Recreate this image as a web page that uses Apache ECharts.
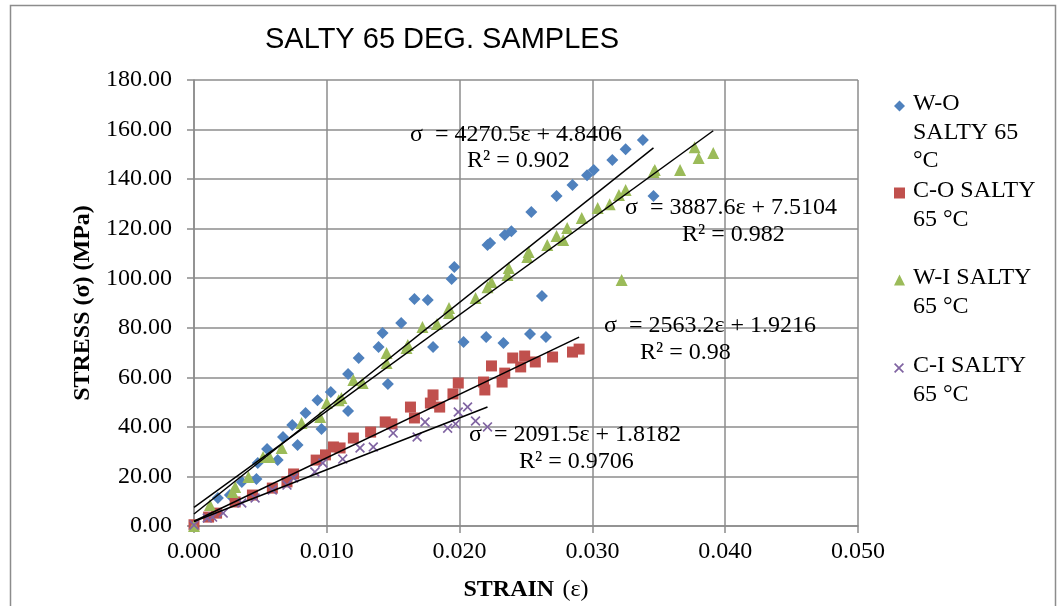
<!DOCTYPE html>
<html>
<head>
<meta charset="utf-8">
<script src="https://cdn.jsdelivr.net/npm/echarts@6/dist/echarts.min.js"></script>
<style>html,body{margin:0;padding:0;background:#fff}#c{width:1062px;height:606px}</style>
</head>
<body>
<div id="c"></div>
<script>
const seriesNames = ['W-O SALTY 65 °C', 'C-O SALTY 65 °C', 'W-I SALTY 65 °C', 'C-I SALTY 65 °C'];
const xTicks = [0, 0.01, 0.02, 0.03, 0.04, 0.05];
const yTicks = [0, 20, 40, 60, 80, 100, 120, 140, 160, 180];

const woData = [[0,0],[0.0018,11.3],[0.0027,12.5],[0.0036,17.8],[0.0047,19.0],[0.0048,25.4],[0.0055,31.1],[0.0063,26.6],
  [0.0067,35.9],[0.0074,40.8],[0.0078,32.7],[0.0084,45.6],[0.0093,50.8],[0.0096,39.1],[0.0103,54.1],[0.0116,46.4],
  [0.0116,61.3],[0.0124,67.8],[0.0139,72.2],[0.0142,77.9],[0.0146,57.3],[0.0156,81.9],[0.0166,91.6],[0.0176,91.2],
  [0.0180,72.2],[0.0194,99.7],[0.0196,104.5],[0.0203,74.3],[0.0220,76.3],[0.0221,113.4],[0.0223,114.2],[0.0233,73.9],
  [0.0234,117.4],[0.0239,119.0],[0.0253,77.5],[0.0254,126.7],[0.0262,92.8],[0.0265,76.3],[0.0273,133.2],[0.0285,137.6],
  [0.0296,141.6],[0.0301,143.7],[0.0315,147.7],[0.0325,152.1],[0.0338,155.8],[0.0346,133.2]];
const coData = [[0,0.5],[0.0011,3.6],[0.0017,5.2],[0.0031,9.7],[0.0044,12.5],[0.0059,15.3],[0.0070,17.8],[0.0075,21.0],
  [0.0092,26.6],[0.0099,28.7],[0.0105,31.9],[0.0110,31.5],[0.0120,35.5],[0.0133,37.9],[0.0144,42.0],[0.0149,41.2],
  [0.0163,48.0],[0.0166,43.6],[0.0178,49.6],[0.0180,52.9],[0.0185,48.0],[0.0195,53.3],[0.0199,57.7],[0.0218,58.1],
  [0.0219,54.9],[0.0224,64.6],[0.0232,58.1],[0.0234,61.7],[0.0240,67.8],[0.0246,64.2],[0.0249,68.6],[0.0257,66.2],
  [0.0270,68.2],[0.0285,70.2],[0.0290,71.4]];
const wiData = [[0,0],[0.0012,8.5],[0.0029,13.7],[0.0031,15.7],[0.0041,19.8],[0.0052,27.8],[0.0057,27.8],[0.0066,31.5],
  [0.0081,41.6],[0.0095,44.0],[0.0100,49.6],[0.0109,50.8],[0.0111,51.7],[0.0120,58.9],[0.0127,57.7],[0.0145,65.8],
  [0.0145,69.8],[0.0160,71.8],[0.0161,73.0],[0.0172,80.3],[0.0183,81.5],[0.0192,88.0],[0.0192,86.0],[0.0212,92.0],
  [0.0221,96.4],[0.0224,98.5],[0.0236,101.3],[0.0237,104.1],[0.0251,108.6],[0.0252,110.6],[0.0266,113.4],[0.0273,117.0],
  [0.0278,115.4],[0.0281,120.3],[0.0292,124.3],[0.0304,128.3],[0.0313,129.9],[0.0320,133.6],[0.0322,99.3],[0.0325,135.6],
  [0.0346,142.9],[0.0347,143.7],[0.0366,143.7],[0.0377,152.9],[0.0380,148.5],[0.0391,150.5]];
const ciData = [[0,0.4],[0.0010,3.2],[0.0014,3.6],[0.0022,5.2],[0.0036,9.3],[0.0046,11.3],[0.0059,14.5],[0.0070,16.5],
  [0.0075,19.4],[0.0091,21.8],[0.0097,25.4],[0.0112,27.0],[0.0125,31.5],[0.0135,31.9],[0.0150,37.5],[0.0168,35.9],
  [0.0174,42.0],[0.0191,39.5],[0.0197,41.2],[0.0199,46.0],[0.0206,48.0],[0.0212,42.4],[0.0221,40.0]];

const slopes = [4270.5, 2563.2, 3887.6, 2091.5];
const intercepts = [4.8406, 1.9216, 7.5104, 1.8182];
const r2 = ['0.902', '0.98', '0.982', '0.9706'];
const legendLines = [['W-O', 'SALTY 65', '°C'], ['C-O SALTY', '65 °C'], ['W-I SALTY', '65 °C'], ['C-I SALTY', '65 °C']];
const allData = [woData, coData, wiData, ciData];

const colors = ['#4F81BD', '#C0504D', '#9BBB59', '#8064A2'];
const xPath = 'path://M0,1.2 L1.2,0 L5,3.8 L8.8,0 L10,1.2 L6.2,5 L10,8.8 L8.8,10 L5,6.2 L1.2,10 L0,8.8 L3.8,5 Z';
const symbols = ['diamond', 'rect', 'triangle', xPath];
const symSizes = [12, 11, 12, 10];

const serif = '"Liberation Serif", "DejaVu Serif", serif';

const series = [];
allData.forEach((d, i) => {
  series.push({
    name: seriesNames[i], type: 'scatter', data: d, symbol: symbols[i], symbolSize: symSizes[i],
    itemStyle: { color: colors[i], opacity: 1 }, z: 3
  });
});
allData.forEach((d, i) => {
  const xmax = Math.max(...d.map(p => p[0]));
  series.push({
    type: 'line', silent: true, symbol: 'none', z: 4,
    data: [[0, intercepts[i]], [xmax, slopes[i] * xmax + intercepts[i]]],
    lineStyle: { color: '#000', width: 1.5 }
  });
});

const legendTops = [106, 193, 280, 368];
const legends = seriesNames.map((n, i) => ({
  data: [{ name: n, icon: symbols[i] }], left: 894, top: legendTops[i] - (i === 3 ? 5 : 5.5), padding: 0,
  itemWidth: i === 3 ? 10 : 11, itemHeight: i === 3 ? 10 : 11, selectedMode: false,
  formatter: () => '',
  textStyle: { fontSize: 1 }
}));

const graphics = [
  { type: 'rect', shape: { x: 10.5, y: 5.5, width: 1045, height: 640 }, style: { fill: 'none', stroke: '#8c8c8c', lineWidth: 1.5 }, z: 0, silent: true }
];
legendLines.forEach((lines, i) => lines.forEach((t, j) => graphics.push({
  type: 'text', left: 913, top: legendTops[i] + j * 28.5 - 14, z: 10, silent: true,
  style: { text: t, font: '24px ' + serif, fill: '#000' }
})));

const eqLabels = [
  ['σ  = ' + slopes[0] + 'ε + ' + intercepts[0], 410, 137], ['R² = ' + r2[0], 467, 163],
  ['σ  = ' + slopes[2] + 'ε + ' + intercepts[2], 625, 210], ['R² = ' + r2[2], 682, 237],
  ['σ  = ' + slopes[1] + 'ε + ' + intercepts[1], 604, 328], ['R² = ' + r2[1], 640, 355],
  ['σ  = ' + slopes[3] + 'ε + ' + intercepts[3], 469, 437], ['R² = ' + r2[3], 519, 464]
];
eqLabels.forEach(([t, x, y]) => graphics.push({
  type: 'text', left: x, top: y - 14, z: 10, silent: true,
  style: { text: t, font: '24px ' + serif, fill: '#000' }
}));

const chart = echarts.init(document.getElementById('c'));
chart.setOption({
  animation: false,
  backgroundColor: '#fff',
  title: {
    text: 'SALTY 65 DEG. SAMPLES', left: 437, top: 20, textAlign: 'center',
    textStyle: { fontFamily: '"Liberation Sans", Arial, sans-serif', fontSize: 29, fontWeight: 'normal', color: '#000' }
  },
  grid: { left: 194, top: 80, width: 664, height: 446, containLabel: false, outerBoundsMode: 'none' },
  legend: legends,
  xAxis: {
    type: 'value', min: xTicks[0], max: xTicks[xTicks.length - 1], interval: 0.01,
    name: '{b|STRAIN} {n|(ε)}', nameLocation: 'middle', nameGap: 52,
    nameTextStyle: { rich: { b: { fontFamily: serif, fontSize: 24, fontWeight: 'bold', color: '#000' }, n: { fontFamily: serif, fontSize: 24, color: '#000', padding: [0, 0, 0, 5] } } },
    axisLine: { show: true, lineStyle: { color: '#8c8c8c', width: 1.5 } },
    axisTick: { show: true, inside: false, length: 7, lineStyle: { color: '#8c8c8c', width: 1.5 } },
    splitLine: { show: true, lineStyle: { color: '#8c8c8c', width: 1.5 } },
    axisLabel: { formatter: v => v.toFixed(3), fontFamily: serif, fontSize: 24, color: '#000', margin: 14 }
  },
  yAxis: {
    type: 'value', min: yTicks[0], max: yTicks[yTicks.length - 1], interval: 20,
    name: 'STRESS (σ) (MPa)', nameLocation: 'middle', nameGap: 88,
    nameTextStyle: { fontFamily: serif, fontSize: 24, fontWeight: 'bold', color: '#000' },
    axisLine: { show: true, lineStyle: { color: '#8c8c8c', width: 1.5 } },
    axisTick: { show: true, inside: false, length: 7, lineStyle: { color: '#8c8c8c', width: 1.5 } },
    splitLine: { show: true, lineStyle: { color: '#8c8c8c', width: 1.5 } },
    axisLabel: { formatter: v => v.toFixed(2), fontFamily: serif, fontSize: 24, color: '#000', margin: 22 }
  },
  series: series,
  graphic: graphics
});
</script>
</body>
</html>
